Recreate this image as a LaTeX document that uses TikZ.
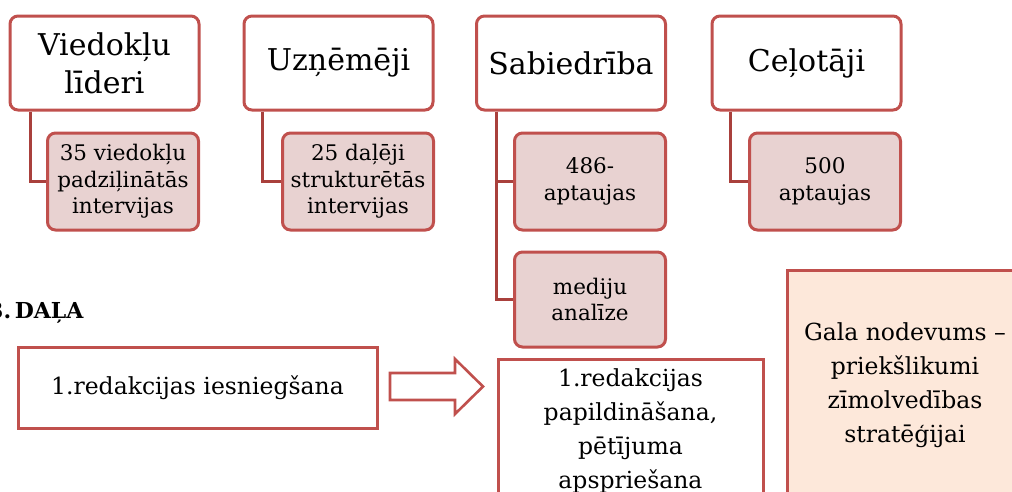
\documentclass[tikz,border=0pt]{standalone}
\usepackage{fontspec}
\setmainfont{DejaVu Serif}
\definecolor{bord}{HTML}{C0504D}
\definecolor{conn}{HTML}{A9403C}
\definecolor{pinkfill}{HTML}{E8D2D1}
\definecolor{peach}{HTML}{FDE8DA}
\begin{document}
\begin{tikzpicture}[x=1pt,y=-1pt,
  topbox/.style={draw=bord,line width=3pt,fill=white,rounded corners=8pt,
    minimum width=189pt,minimum height=94pt,align=center,inner sep=0pt,
    font=\fontsize{30}{38}\selectfont},
  childbox/.style={draw=bord,line width=3pt,fill=pinkfill,rounded corners=8pt,
    minimum width=151pt,minimum height=97pt,align=center,inner sep=0pt,
    font=\fontsize{21.5}{26.5}\selectfont},
  plainbox/.style={draw=bord,line width=3pt,fill=white,align=center,inner sep=0pt,
    font=\fontsize{23.5}{34}\selectfont},
  conline/.style={draw=conn,line width=3pt}]
\useasboundingbox (0,0) rectangle (1012,491);
% top boxes
\node[topbox] (t1) at (104.5,63) {Viedokļu\\līderi};
\node[topbox] (t2) at (338.5,63) {Uzņēmēji};
\node[topbox] (t3) at (571,63) {Sabiedrība};
\node[topbox] (t4) at (806.5,63) {Ceļotāji};
% child boxes
\node[childbox] (c1) at (123,181.5) {35 viedokļu\\padziļinātās\\intervijas};
\node[childbox] (c2) at (358,181.5) {25 daļēji\\strukturētās\\intervijas};
\node[childbox] (c3a) at (590,181.5) {486-\\aptaujas};
\node[childbox,minimum height=95pt] (c3b) at (590,299.5) {mediju\\analīze};
\node[childbox] (c4) at (825,181.5) {500\\aptaujas};
% connectors
\draw[conline] (t1.south west) ++(22,0) |- (c1.west);
\draw[conline] (t2.south west) ++(20,0) |- (c2.west);
\draw[conline] (t3.south west) ++(21,0) |- (c3a.west);
\draw[conline] (t3.south west) ++(21,0) |- (c3b.west);
\draw[conline] (t4.south west) ++(20,0) |- (c4.west);
% bottom part
\node[anchor=base west,font=\bfseries\fontsize{22}{26}\selectfont,inner sep=0pt] (dala) at (-12,318) {3.\,DAĻA};
\node[plainbox,minimum width=359pt,minimum height=81pt] (b1) at (197.5,387.5) {1.redakcijas iesniegšana};
\node[plainbox,minimum width=265pt,minimum height=144pt] (b2) at (630.5,431) {1.redakcijas\\papildināšana,\\pētījuma\\apspriešana};
\node[plainbox,fill=peach,minimum width=236pt,minimum height=230pt] (gala) at (905,385) {Gala nodevums –\\priekšlikumi\\zīmolvedības\\stratēģijai};
% block arrow
\draw[draw=bord,line width=2.6pt,fill=white,line join=miter]
  (390,373) -- (455,373) -- (455,359) -- (483,386.5) -- (455,414) -- (455,400) -- (390,400) -- cycle;
\end{tikzpicture}
\end{document}
